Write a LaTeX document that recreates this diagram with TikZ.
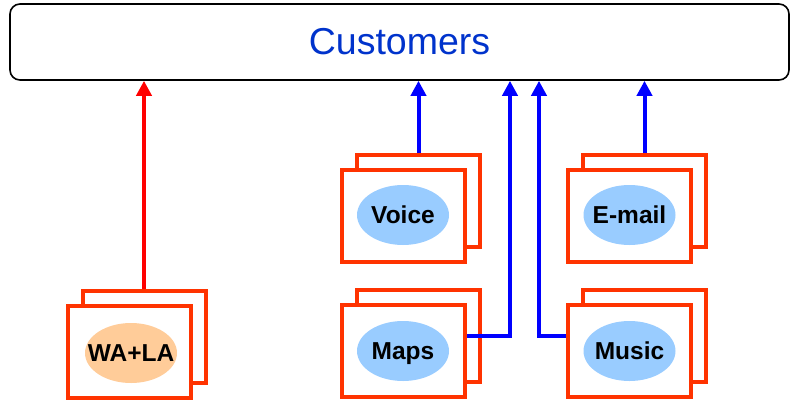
\documentclass[tikz,border=0pt]{standalone}
\usepackage{fontspec}
\setmainfont{Liberation Sans}
\usetikzlibrary{arrows.meta,shapes.geometric}
\definecolor{boxred}{RGB}{255,51,0}
\definecolor{svcblue}{RGB}{153,204,255}
\definecolor{svcorange}{RGB}{255,204,153}
\definecolor{titleblue}{RGB}{0,51,204}
\newcommand{\svctext}[1]{\makebox[0pt]{#1}}
\tikzset{
  custbox/.style={draw=black, line width=1.6pt, rounded corners=10pt, fill=white,
    minimum width=779pt, minimum height=76pt, inner sep=0pt,
    font=\fontsize{37.5}{40}\selectfont, text=titleblue},
  cardbox/.style={draw=boxred, line width=4pt, fill=white,
    minimum width=123pt, minimum height=92pt, inner sep=0pt},
  svc/.style={ellipse, fill=svcblue, minimum width=92pt, minimum height=60pt,
    inner sep=0pt, text height=17.5pt, text depth=0pt,
    font=\fontsize{24.5}{26}\selectfont\bfseries},
  bluelink/.style={draw=blue, line width=4pt, -{Triangle[width=15pt,length=15pt]}},
  redlink/.style={draw=red, line width=4pt, -{Triangle[width=15pt,length=15pt]}},
}
\begin{document}
\begin{tikzpicture}[x=1pt,y=-1pt]
  \useasboundingbox (0,0) rectangle (790,400);
  % top bar
  \node[custbox] (cust) at (399.5,42) {Customers};

  % service cards: back sheet, front sheet, label
  \node[cardbox] (walaB) at (144,337) {};
  \node[cardbox] (wala) at (129,352) {};
  \node[svc, fill=svcorange] (walaL) at (131,353) {\svctext{WA+LA}};

  \node[cardbox] (voiceB) at (418.5,201) {};
  \node[cardbox] (voice) at (403.5,216) {};
  \node[svc] (voiceL) at (403,215) {\svctext{Voice}};

  \node[cardbox] (emailB) at (644.5,201) {};
  \node[cardbox] (email) at (629.5,216) {};
  \node[svc] (emailL) at (629.5,215) {\svctext{E-mail}};

  \node[cardbox] (mapsB) at (418.5,336) {};
  \node[cardbox] (maps) at (403.5,351) {};
  \node[svc] (mapsL) at (403,351) {\svctext{Maps}};

  \node[cardbox] (musicB) at (644.5,336) {};
  \node[cardbox] (music) at (629.5,351) {};
  \node[svc] (musicL) at (629.5,351) {\svctext{Music}};

  % links up to the customers bar
  \draw[redlink] (walaB.north) -- (walaB.north |- cust.south);
  \draw[bluelink] (voiceB.north) -- (voiceB.north |- cust.south);
  \draw[bluelink] (emailB.north) -- (emailB.north |- cust.south);
  \draw[bluelink] ([yshift=15pt]maps.east) -| ([xshift=110.5pt]cust.south);
  \draw[bluelink] ([yshift=15pt]music.west) -| ([xshift=139.5pt]cust.south);
\end{tikzpicture}
\end{document}
